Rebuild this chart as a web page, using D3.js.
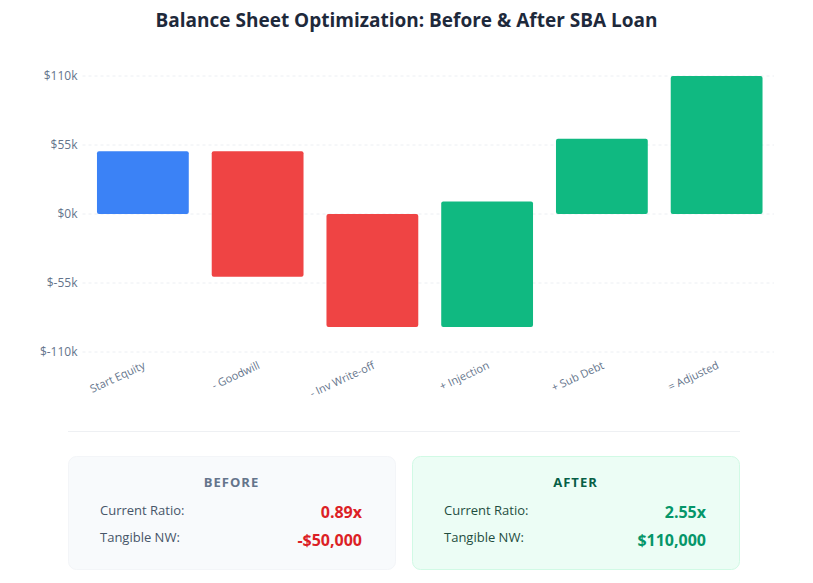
<!DOCTYPE html>
<html>
<head>
<meta charset="utf-8">
<script src="https://cdn.jsdelivr.net/npm/d3@7"></script>
<style>
  body { margin: 0; background: #fff; }
  text { font-family: "Open Sans", "Noto Sans", sans-serif; }
</style>
</head>
<body>
<div id="chart"></div>
<script>
const categories = ["Start Equity", "- Goodwill", "- Inv Write-off", "+ Injection", "+ Sub Debt", "= Adjusted"];
const lows = [0, -50000, -90000, -90000, 0, 0];
const highs = [50000, 50000, 0, 10000, 60000, 110000];
const kinds = ["start", "down", "down", "up", "up", "total"];
const yTicks = [-110000, -55000, 0, 55000, 110000];

const summaryLabels = ["Current Ratio:", "Tangible NW:"];
const beforeValues = ["0.89x", "-$50,000"];
const afterValues = ["2.55x", "$110,000"];

const data = categories.map((c, i) => ({name: c, low: lows[i], high: highs[i], kind: kinds[i]}));

const width = 813;
const height = 583;
const margin = {top: 76, right: 39, bottom: 231, left: 85.5};

const color = d3.scaleOrdinal()
.domain(["start", "down", "up", "total"])
.range(["#3b82f6", "#ef4444", "#10b981", "#10b981"]);

const xScale = d3.scaleBand()
.domain(categories)
.range([margin.left, width - margin.right])
.paddingInner(0.2)
.paddingOuter(0.1);

const yScale = d3.scaleLinear()
.domain([-110000, 110000])
.range([height - margin.bottom, margin.top]);

const svg = d3.select("#chart")
.append("svg")
.attr("width", width)
.attr("height", height);

// title
svg.append("text")
.attr("x", width / 2)
.attr("y", 27)
.attr("text-anchor", "middle")
.attr("font-size", 19)
.attr("font-weight", 700)
.attr("fill", "#1e293b")
.text("Balance Sheet Optimization: Before & After SBA Loan");

// grid
svg.append("g")
.selectAll("line")
.data(yTicks)
.enter()
.append("line")
.attr("x1", margin.left - 3)
.attr("x2", width - margin.right)
.attr("y1", d => yScale(d))
.attr("y2", d => yScale(d))
.attr("stroke", "#eceff3")
.attr("stroke-dasharray", "3 3");

// y axis
const yAxis = svg.append("g")
.attr("transform", `translate(${margin.left - 8},0)`)
.call(d3.axisLeft(yScale).tickValues(yTicks).tickSize(0).tickPadding(0).tickFormat(d => `$${d / 1000}k`));
yAxis.select(".domain").remove();
yAxis.selectAll("text")
.attr("font-size", 12)
.attr("fill", "#64748b")
.style("font-family", "'Open Sans', sans-serif");

// x axis
const xAxis = svg.append("g")
.attr("transform", `translate(0,${height - margin.bottom})`)
.call(d3.axisBottom(xScale).tickSize(0).tickPadding(0));
xAxis.select(".domain").remove();
xAxis.selectAll("text")
.attr("font-size", 11)
.attr("fill", "#64748b")
.attr("text-anchor", "end")
.attr("dy", 0)
.attr("y", 0)
.attr("transform", "translate(3,16) rotate(-25)")
.style("font-family", "'Open Sans', sans-serif");

// bars
svg.append("g")
.selectAll("rect")
.data(data)
.enter()
.append("rect")
.attr("x", d => xScale(d.name))
.attr("y", d => yScale(d.high))
.attr("width", xScale.bandwidth())
.attr("height", d => yScale(d.low) - yScale(d.high))
.attr("rx", 2)
.attr("fill", d => color(d.kind));

// separator
svg.append("line")
.attr("x1", 68)
.attr("x2", 740)
.attr("y1", 431.5)
.attr("y2", 431.5)
.attr("stroke", "#eef0f3");

// summary boxes
const boxes = [
  {title: "BEFORE", values: beforeValues, x: 68, bg: "#f8fafc", border: "#f3f5f8", head: "#64748b", label: "#475569", value: "#dc1f26"},
  {title: "AFTER", values: afterValues, x: 412, bg: "#ecfdf5", border: "#d1fae5", head: "#065f46", label: "#1f4d3f", value: "#059669"}
];
const boxW = 327;
const boxH = 113;

const box = svg.selectAll(".box")
.data(boxes)
.enter()
.append("g")
.attr("class", "box")
.attr("transform", d => `translate(${d.x},456)`);

box.append("rect")
.attr("x", 0.5)
.attr("y", 0.5)
.attr("width", boxW)
.attr("height", boxH)
.attr("rx", 8)
.attr("fill", d => d.bg)
.attr("stroke", d => d.border);

box.append("text")
.attr("x", boxW / 2)
.attr("y", 31)
.attr("text-anchor", "middle")
.attr("font-size", 13)
.attr("font-weight", 700)
.attr("letter-spacing", 1)
.attr("fill", d => d.head)
.text(d => d.title);

summaryLabels.forEach((lab, i) => {
  box.append("text")
  .attr("x", 32)
  .attr("y", 59 + i * 27)
  .attr("font-size", 13)
  .attr("fill", d => d.label)
  .text(lab);

  box.append("text")
  .attr("x", 294)
  .attr("y", 62 + i * 28)
  .attr("text-anchor", "end")
  .attr("font-size", 16)
  .attr("font-weight", 700)
  .attr("fill", d => d.value)
  .text(d => d.values[i]);
});
</script>
</body>
</html>
